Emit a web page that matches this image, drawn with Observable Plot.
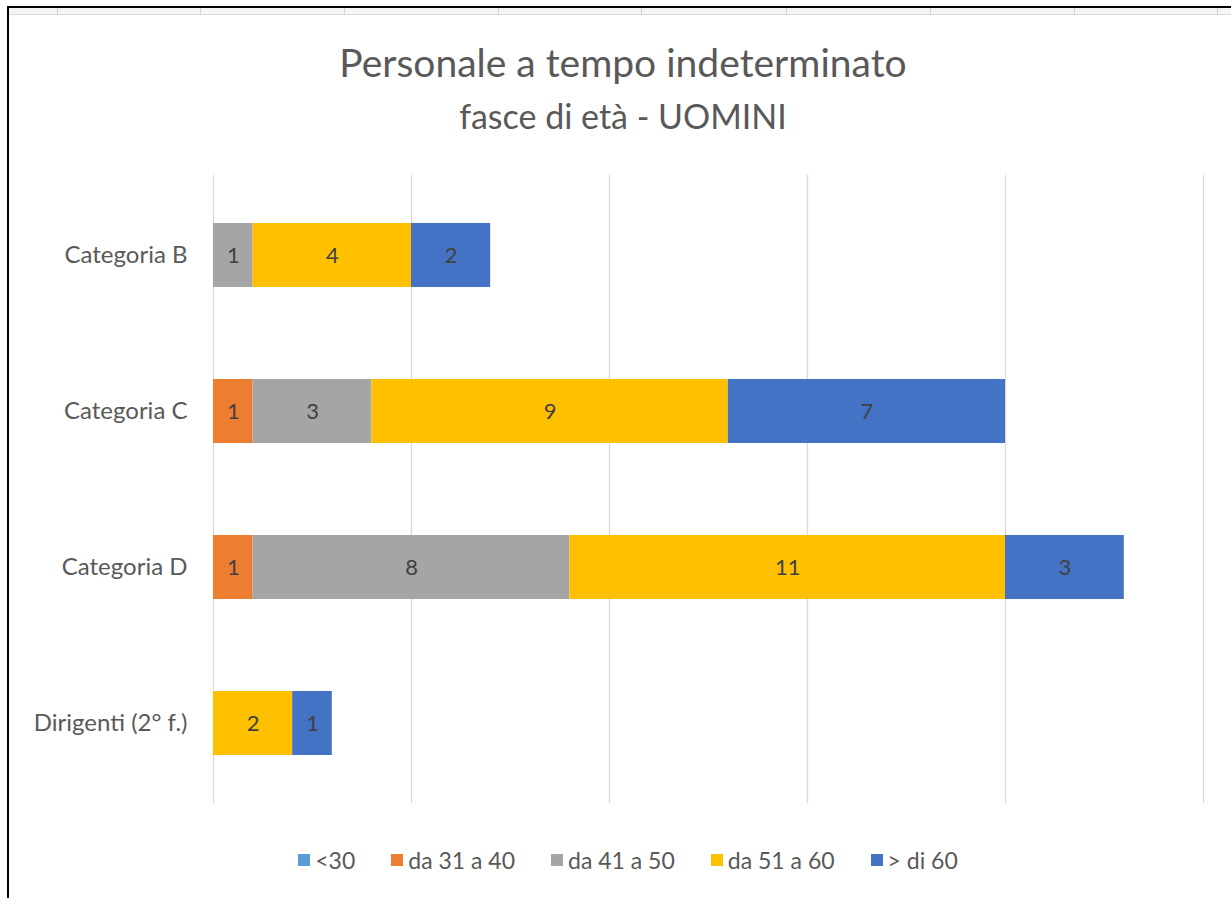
<!DOCTYPE html>
<html>
<head>
<meta charset="utf-8">
<script src="https://cdn.jsdelivr.net/npm/d3@7"></script>
<script src="https://cdn.jsdelivr.net/npm/@observablehq/plot@0.6"></script>
<style>
  html, body { margin: 0; padding: 0; background: #fff; }
  #wrap { position: relative; width: 1231px; height: 898px; overflow: hidden; background: #fff; font-family: Lato, "Open Sans", sans-serif; }
  #topstrip { position: absolute; left: 8px; top: 8px; width: 1223px; height: 6px; background: #f4f4f4; border-bottom: 1px solid #dcdcdc; }
  .sep { position: absolute; top: 8px; width: 1px; height: 7px; background: #d4d4d4; }
  #frameTop { position: absolute; left: 7px; top: 6px; width: 1224px; height: 2px; background: #000; }
  #frameLeft { position: absolute; left: 7px; top: 6px; width: 2px; height: 892px; background: #000; }
  #title { position: absolute; left: 0; width: 1246px; top: 39px; text-align: center; color: #595959; font-size: 39px; line-height: 46px; }
  #subtitle { position: absolute; left: 0; width: 1246px; top: 96px; text-align: center; color: #595959; font-size: 34px; line-height: 40px; }
  #chart { position: absolute; left: 0; top: 0; }
  #legend { position: absolute; left: 0; width: 1256px; top: 845px; display: flex; justify-content: center; gap: 36px; color: #595959; font-size: 23px; line-height: 30px; }
  .item { display: flex; align-items: center; gap: 5px; }
  .sw { width: 12px; height: 12px; display: inline-block; }
</style>
</head>
<body>
<div id="wrap">
  <div id="topstrip"></div>
  <div id="frameTop"></div>
  <div id="frameLeft"></div>
  <div id="chart"></div>
  <div id="title">Personale a tempo indeterminato</div>
  <div id="subtitle">fasce di età - UOMINI</div>
  <div id="legend"></div>
</div>
<script>
const categories = ["Categoria B", "Categoria C", "Categoria D", "Dirigenti (2° f.)"];
const seriesNames = ["<30", "da 31 a 40", "da 41 a 50", "da 51 a 60", "> di 60"];
const seriesColors = ["#5B9BD5", "#ED7D31", "#A5A5A5", "#FFC000", "#4472C4"];
const under30 = [0, 0, 0, 0];
const from31to40 = [0, 1, 1, 0];
const from41to50 = [1, 3, 8, 0];
const from51to60 = [4, 9, 11, 2];
const over60 = [2, 7, 3, 1];
const xTicks = [0, 5, 10, 15, 20, 25];

const seriesValues = [under30, from31to40, from41to50, from51to60, over60];
const table = [];
categories.forEach((c, i) => {
  seriesNames.forEach((s, j) => {
    const v = seriesValues[j][i];
    if (v > 0) table.push({category: c, series: s, value: v});
  });
});

// spreadsheet strip separators (decoration)
[57, 200, 344, 498, 641, 786, 930, 1074, 1217].forEach(x => {
  const d = document.createElement("div");
  d.className = "sep"; d.style.left = x + "px";
  document.getElementById("wrap").appendChild(d);
});

const plot = Plot.plot({
  width: 1231,
  height: 820,
  marginLeft: 213,
  marginRight: 28,
  marginTop: 175,
  marginBottom: 17,
  style: {background: "transparent", fontFamily: "Lato, 'Open Sans', sans-serif"},
  x: {domain: [0, 25], axis: null},
  y: {domain: categories, paddingInner: 0.59, paddingOuter: 0.3, label: null},
  color: {domain: seriesNames, range: seriesColors},
  marks: [
    Plot.ruleX(xTicks, {stroke: "#d9d9d9", strokeWidth: 1.3}),
    Plot.barX(table, Plot.stackX({x: "value", y: "category", z: "series", fill: "series", order: seriesNames})),
    Plot.text(table, Plot.stackX({x: "value", y: "category", z: "series", order: seriesNames, text: d => String(d.value), fill: "#404040", fontSize: 22})),
    Plot.axisY({tickSize: 0, tickPadding: 26, fontSize: 24, color: "#595959", label: null})
  ]
});
document.getElementById("chart").appendChild(plot);

const legend = document.getElementById("legend");
seriesNames.forEach((s, i) => {
  const it = document.createElement("div");
  it.className = "item";
  const sw = document.createElement("span");
  sw.className = "sw"; sw.style.background = seriesColors[i];
  const t = document.createElement("span");
  t.textContent = s;
  it.appendChild(sw); it.appendChild(t);
  legend.appendChild(it);
});
</script>
</body>
</html>
